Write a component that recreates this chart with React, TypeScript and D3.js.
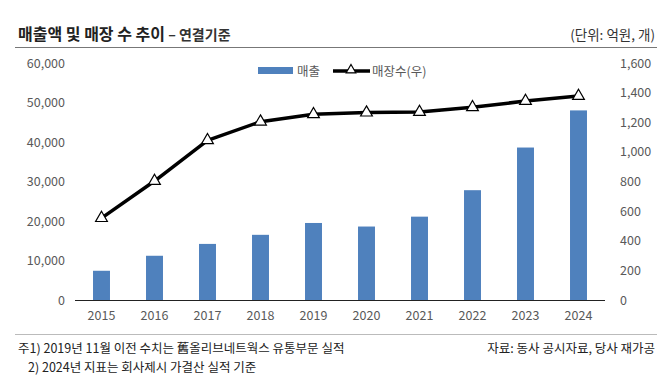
import React, { useEffect, useRef } from 'react'
import * as d3 from 'd3'

const years = ['2015', '2016', '2017', '2018', '2019', '2020', '2021', '2022', '2023', '2024']
const sales = [7400, 11200, 14200, 16500, 19500, 18600, 21100, 27800, 38600, 48000]
const stores = [553, 803, 1078, 1204, 1254, 1265, 1269, 1301, 1343, 1377]
const leftTicks = [0, 10000, 20000, 30000, 40000, 50000, 60000]
const rightTicks = [0, 200, 400, 600, 800, 1000, 1200, 1400, 1600]

const FONT = "'Noto Sans CJK KR', 'Noto Sans', sans-serif"

export default function App() {
  const ref = useRef<SVGSVGElement>(null)

  useEffect(() => {
    const svg = d3.select(ref.current)
    svg.selectAll('*').remove()

    const width = 670
    const height = 387
    const margin = { top: 63, bottom: 87, left: 75, right: 65 }
    const innerBottom = height - margin.bottom

    const x = d3.scaleBand().domain(years).range([margin.left, width - margin.right]).paddingInner(0.68).paddingOuter(0.34)
    const yL = d3.scaleLinear().domain([0, 60000]).range([innerBottom, margin.top])
    const yR = d3.scaleLinear().domain([0, 1600]).range([innerBottom, margin.top])

    svg.attr('width', width).attr('height', height).style('font-family', FONT)

    // title
    svg.append('text').attr('x', 18).attr('y', 40)
      .attr('font-size', 16).attr('font-weight', 'bold').attr('fill', '#222')
      .text('매출액 및 매장 수 추이')
      .append('tspan').attr('font-size', 14).attr('font-weight', 'bold').attr('fill', '#333')
      .text(' – 연결기준')
    svg.append('text').attr('x', 655).attr('y', 40).attr('text-anchor', 'end')
      .attr('font-size', 13.5).attr('fill', '#333').text('(단위: 억원, 개)')
    svg.append('line').attr('x1', 15).attr('x2', 657).attr('y1', 47.5).attr('y2', 47.5)
      .attr('stroke', '#777').attr('stroke-width', 1)

    // axis labels
    svg.append('g').selectAll('text').data(leftTicks).enter().append('text')
      .attr('x', 65).attr('y', d => yL(d) + 4.5).attr('text-anchor', 'end')
      .attr('font-size', 12.5).attr('fill', '#595959').text(d => d3.format(',')(d))

    svg.append('g').selectAll('text').data(rightTicks).enter().append('text')
      .attr('x', 620).attr('y', d => yR(d) + 4.5).attr('text-anchor', 'start')
      .attr('font-size', 12.5).attr('fill', '#595959').text(d => d3.format(',')(d))

    // bars
    svg.append('g').selectAll('rect').data(sales).enter().append('rect')
      .attr('x', (d, i) => x(years[i]) as number)
      .attr('width', x.bandwidth())
      .attr('y', d => yL(d))
      .attr('height', d => innerBottom - yL(d))
      .attr('fill', '#4f81bd')

    // baseline
    svg.append('line').attr('x1', margin.left).attr('x2', width - margin.right)
      .attr('y1', innerBottom + 0.5).attr('y2', innerBottom + 0.5).attr('stroke', '#222').attr('stroke-width', 1.2)

    // x labels
    svg.append('g').selectAll('text').data(years).enter().append('text')
      .attr('x', d => (x(d) as number) + x.bandwidth() / 2).attr('y', innerBottom + 20)
      .attr('text-anchor', 'middle').attr('font-size', 12.5).attr('fill', '#595959').text(d => d)

    // line
    const cx = (i: number) => (x(years[i]) as number) + x.bandwidth() / 2
    const line = d3.line<number>().x((d, i) => cx(i)).y(d => yR(d))
    svg.append('path').datum(stores).attr('d', line).attr('fill', 'none')
      .attr('stroke', '#000').attr('stroke-width', 3.5).attr('stroke-linejoin', 'round')

    const tri = d3.symbol().type(d3.symbolTriangle).size(60)
    svg.append('g').selectAll('path').data(stores).enter().append('path')
      .attr('d', tri).attr('transform', (d, i) => `translate(${cx(i)},${yR(d)})`)
      .attr('fill', '#fff').attr('stroke', '#000').attr('stroke-width', 1.2)

    // legend
    const triS = d3.symbol().type(d3.symbolTriangle).size(40)
    const lg = svg.append('g')
    lg.append('rect').attr('x', 258).attr('y', 67).attr('width', 35).attr('height', 7).attr('fill', '#4f81bd')
    lg.append('text').attr('x', 297).attr('y', 75.5).attr('font-size', 12.5).attr('fill', '#595959').text('매출')
    lg.append('line').attr('x1', 333).attr('x2', 370).attr('y1', 71).attr('y2', 71).attr('stroke', '#000').attr('stroke-width', 3.5)
    lg.append('path').attr('d', triS).attr('transform', 'translate(351,70)').attr('fill', '#fff').attr('stroke', '#000').attr('stroke-width', 1.2)
    lg.append('text').attr('x', 372).attr('y', 75.5).attr('font-size', 12.5).attr('fill', '#595959').text('매장수(우)')

    // footer
    svg.append('line').attr('x1', 15).attr('x2', 657).attr('y1', 334.5).attr('y2', 334.5)
      .attr('stroke', '#bbb').attr('stroke-width', 1)
    svg.append('text').attr('x', 18).attr('y', 353).attr('font-size', 12.5).attr('fill', '#222')
      .text('주1) 2019년 11월 이전 수치는 舊올리브네트웍스 유통부문 실적')
    svg.append('text').attr('x', 28).attr('y', 372).attr('font-size', 12.5).attr('fill', '#222')
      .text('2) 2024년 지표는 회사제시 가결산 실적 기준')
    svg.append('text').attr('x', 655).attr('y', 353).attr('text-anchor', 'end').attr('font-size', 12.5).attr('fill', '#222')
      .text('자료: 동사 공시자료, 당사 재가공')
  }, [])

  return <svg ref={ref} style={{ position: 'absolute', left: 0, top: 0 }} />
}
